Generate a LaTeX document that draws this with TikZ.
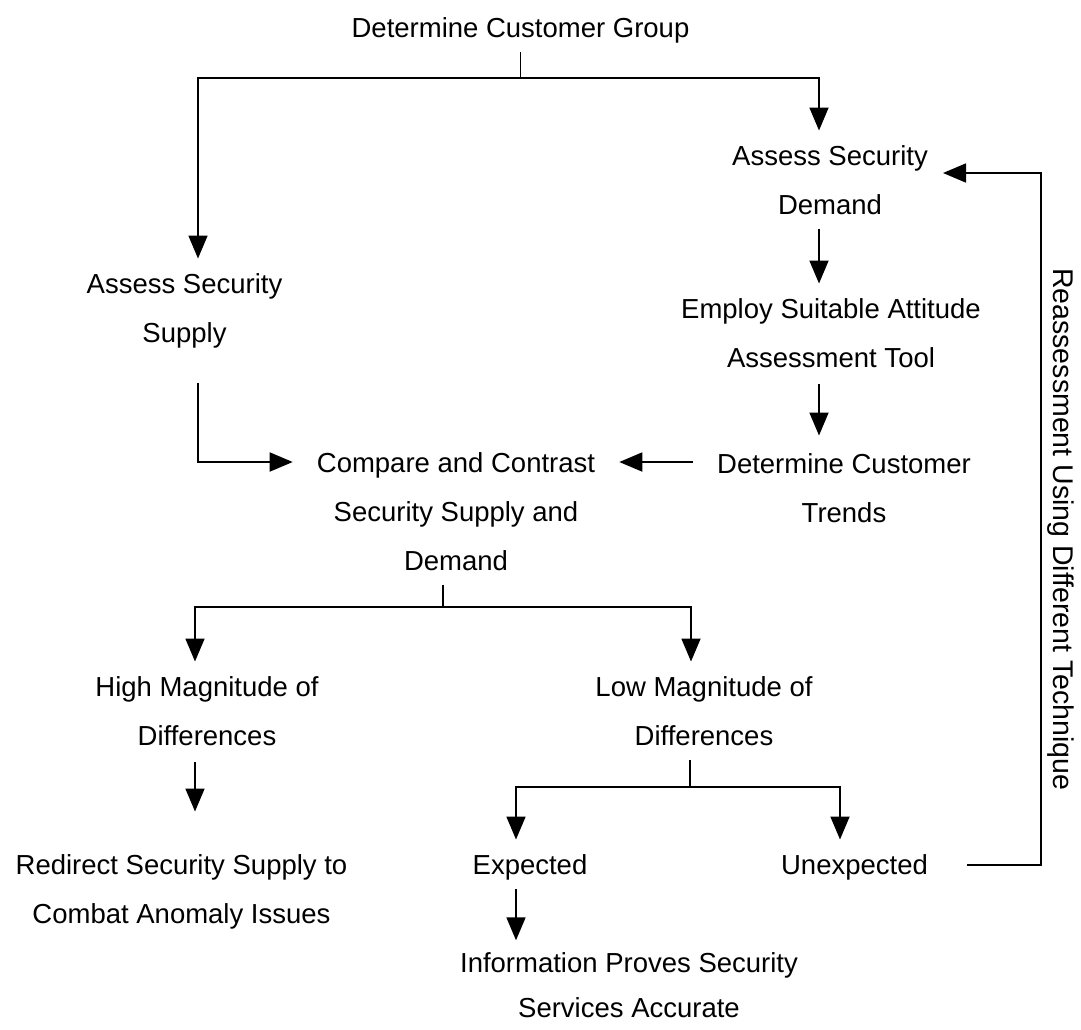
\documentclass[tikz,border=0pt]{standalone}
\usepackage{fontspec}
\setmainfont{Liberation Sans}
\usetikzlibrary{arrows.meta}
\newcommand{\mlines}[1]{\begin{tabular}[t]{@{}c@{}}#1\end{tabular}}
\begin{document}
\begin{tikzpicture}[x=1pt,y=-1pt,
  lbl/.style={inner sep=0pt, anchor=base, font=\fontsize{27.5}{49}\selectfont},
  conn/.style={line width=1.8pt},
  arr/.style={conn, -{Triangle[length=23pt,width=19pt]}}]
\useasboundingbox (0,0) rectangle (1081,1029);

% nodes
\node[lbl] (dcg)  at (520.5,37) {\mlines{Determine Customer Group}};
\node[lbl] (asd)  at (830,165)  {\mlines{Assess Security\\Demand}};
\node[lbl] (ass)  at (184.5,293) {\mlines{Assess Security\\Supply}};
\node[lbl] (emp)  at (831,318)  {\mlines{Employ Suitable Attitude\\Assessment Tool}};
\node[lbl] (dct)  at (844,473)  {\mlines{Determine Customer\\Trends}};
\node[lbl] (cmp)  at (456,472)  {\mlines{Compare and Contrast\\Security Supply and\\Demand}};
\node[lbl] (hmd)  at (207,696)  {\mlines{High Magnitude of\\Differences}};
\node[lbl] (lmd)  at (704,696)  {\mlines{Low Magnitude of\\Differences}};
\node[lbl] (red)  at (181.5,874) {\mlines{Redirect Security Supply to\\Combat Anomaly Issues}};
\node[lbl] (exp)  at (530,874)  {\mlines{Expected}};
\node[lbl] (unx)  at (854.5,874) {\mlines{Unexpected}};
\node[lbl, font=\fontsize{27.5}{45}\selectfont] (info) at (629,972)
  {\mlines{Information Proves Security\\Services Accurate}};
\node[inner sep=0pt, rotate=-90, anchor=base west, font=\fontsize{28.5}{34}\selectfont]
  (rlab) at (1053,268) {Reassessment Using Different Technique};

% junction coordinates
\coordinate (tl) at (198,78);
\coordinate (tr) at (819,78);
\coordinate (hy) at (0,462);
\coordinate (cs) at (443,607);
\coordinate (cl) at (195,607);
\coordinate (cr) at (691,607);
\coordinate (ls) at (690,787);
\coordinate (ll) at (516,787);
\coordinate (lr) at (840,787);
\coordinate (rb) at (1041,865);
\coordinate (rt) at (1041,173);

% connectors
\draw[arr] (dcg.south) |- (tl) -- (tl |- ass.north);
\draw[arr] (dcg.south) |- (tr) -- (tr |- asd.north);
\draw[arr] (asd.south -| tr) -- (emp.north -| tr);
\draw[arr, shorten <=2pt, shorten >=3pt] (emp.south -| tr) -- (dct.north -| tr);
\draw[arr, shorten <=24pt, shorten >=24pt] (dct.west |- hy) -- (cmp.east |- hy);
\draw[arr, shorten <=26pt, shorten >=24pt] (ass.south -| tl) |- (cmp.west |- hy);
\draw[arr] (cs |- cmp.south) |- (cl) -- (cl |- hmd.north);
\draw[arr] (cs |- cmp.south) |- (cr) -- (cr |- lmd.north);
\draw[arr, shorten <=2pt, shorten >=28pt] (hmd.south -| cl) -- (red.north -| cl);
\draw[arr] (ls |- lmd.south) |- (ll) -- (ll |- exp.north);
\draw[arr] (ls |- lmd.south) |- (lr) -- (lr |- unx.north);
\draw[arr] (exp.south -| ll) -- (info.north -| ll);
\draw[arr, shorten <=39pt, shorten >=15pt] (unx.east |- rb) -- (rb) -- (rt) -- (asd.east |- rt);
\end{tikzpicture}
\end{document}
